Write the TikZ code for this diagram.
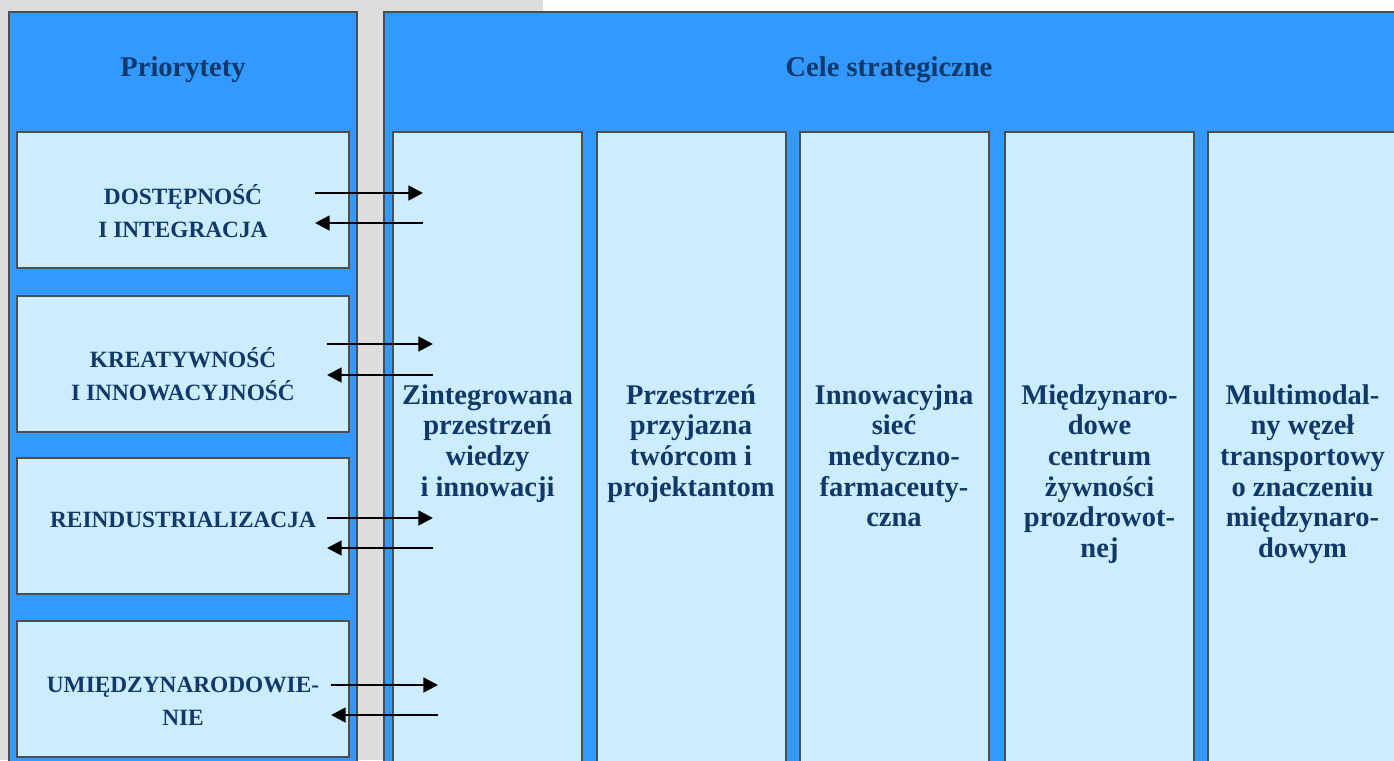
\documentclass[tikz,border=0pt]{standalone}
\usepackage{fontspec}
\setmainfont{Liberation Serif}
\usetikzlibrary{arrows.meta}
\definecolor{panelblue}{RGB}{51,153,255}
\definecolor{boxblue}{RGB}{204,236,255}
\definecolor{edgegrey}{RGB}{77,77,77}
\definecolor{bggrey}{RGB}{221,221,221}
\definecolor{inkblue}{RGB}{16,56,104}

\begin{document}
\begin{tikzpicture}[x=0.75pt, y=-0.75pt, >={Triangle[length=11pt,width=11pt]},
  panel/.style={draw=edgegrey, line width=1.5pt, fill=panelblue},
  prio/.style={draw=edgegrey, line width=1.5pt, fill=boxblue, inner sep=0pt,
    minimum width=249pt, minimum height=102pt},
  prtext/.style={text=inkblue, align=center, inner sep=0pt,
    font=\bfseries\fontsize{17.5}{24.5}\selectfont},
  col/.style={draw=edgegrey, line width=1.5pt, fill=boxblue, inner sep=0pt,
    minimum width=141.75pt, minimum height=493.5pt},
  coltext/.style={text=inkblue, align=center, inner sep=0pt, anchor=north,
    font=\bfseries\fontsize{21.4}{23}\selectfont},
  head/.style={text=inkblue, font=\bfseries\fontsize{21.4}{23}\selectfont},
  flow/.style={->, line width=2pt}]
  \clip (0,0) rectangle (1394,760);
  \fill[white] (0,0) rectangle (1394,760);
  \fill[bggrey] (0,0) rectangle (543,760);

  % panels
  \draw[panel] (9,12) rectangle (357,790);
  \draw[panel] (384,12) rectangle (1410,790);
  \node[head] (priorytety) at (183,70) {Priorytety};
  \node[head] (cele) at (889,70) {Cele strategiczne};

  % priorities
  \node[prio] (p1) at (183,200) {};
  \node[prio] (p2) at (183,364) {};
  \node[prio] (p3) at (183,526) {};
  \node[prio] (p4) at (183,688.5) {};
  \node[prtext] (p1t) at (183,211) {DOSTĘPNOŚĆ\\I INTEGRACJA};
  \node[prtext] (p2t) at (183,374) {KREATYWNOŚĆ\\I INNOWACYJNOŚĆ};
  \node[prtext] (p3t) at (183,520) {REINDUSTRIALIZACJA};
  \node[prtext] (p4t) at (183,701) {UMIĘDZYNARODOWIE-\\NIE};

  % strategic goals
  \node[col] (c1) at (487.5,461) {};
  \node[col] (c2) at (691,461) {};
  \node[col] (c3) at (894,461) {};
  \node[col] (c4) at (1099.5,461) {};
  \node[col] (c5) at (1302.5,461) {};
  \node[coltext] (c1t) at (487.5,384) {Zintegrowana\\przestrzeń\\wiedzy\\i innowacji};
  \node[coltext] (c2t) at (691,384) {Przestrzeń\\przyjazna\\twórcom i\\projektantom};
  \node[coltext] (c3t) at (894,384) {Innowacyjna\\sieć\\medyczno-\\farmaceuty-\\czna};
  \node[coltext] (c4t) at (1099.5,384) {Międzynaro-\\dowe\\centrum\\żywności\\prozdrowot-\\nej};
  \node[coltext] (c5t) at (1302.5,384) {Multimodal-\\ny węzeł\\transportowy\\o znaczeniu\\międzynaro-\\dowym};

  % arrows
  \foreach \i/\xa/\xb/\ya/\yb in {1/315/423/193/223, 2/327/433/344/375,
                                  3/327/433/518/548, 4/331/438/685/715} {
    \coordinate (out\i) at (\xa,\ya);
    \coordinate (in\i) at (\xb,\ya);
    \coordinate (back\i) at (\xb,\yb);
    \coordinate (home\i) at (\xa,\yb);
    \draw[flow] (out\i) -- (in\i);
    \draw[flow] (back\i) -- (home\i);
  }
\end{tikzpicture}
\end{document}
